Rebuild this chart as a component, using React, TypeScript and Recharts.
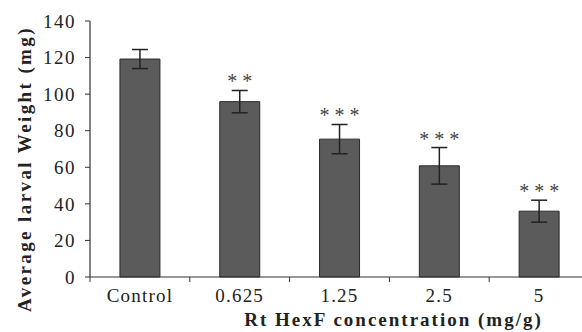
import React from 'react';
import { BarChart, Bar, XAxis, YAxis, ErrorBar, LabelList, Label } from 'recharts';

const categories = ['Control', '0.625', '1.25', '2.5', '5'];
const means = [119.2, 95.9, 75.4, 60.8, 36.0];
const errors = [5.2, 6.1, 8.0, 10.0, 6.0];
const significance = ['', '* *', '* * *', '* * *', '* * *'];
const yTicks = [0, 20, 40, 60, 80, 100, 120, 140];

const data = categories.map((name, i) => ({
  name,
  mean: means[i],
  err: errors[i],
  sig: significance[i],
}));

const FONT = '"Liberation Serif", "DejaVu Serif", serif';

const SigLabel = (props: any) => {
  const vb = props.viewBox || {};
  const x = props.x ?? vb.x;
  const y = props.y ?? vb.y;
  const width = props.width ?? vb.width;
  const height = props.height ?? vb.height;
  const index = props.index;
  const value = props.value ?? (index != null ? significance[index] : '');
  if (!value || index == null) return null;
  const pxPerUnit = height / means[index];
  const errTop = y - errors[index] * pxPerUnit;
  return (
    <text
      x={x + width / 2}
      y={errTop - 2}
      textAnchor="middle"
      fontFamily={FONT}
      fontSize={20}
      fill="#444"
    >
      {value}
    </text>
  );
};

const CatTick = (props: any) => {
  const { x, y, payload } = props;
  const half = payload.offset ?? 0;
  return (
    <g>
      <line x1={x - half} x2={x - half} y1={y} y2={y + 5} stroke="#333" strokeWidth={1} />
      <text
        x={x}
        y={y + 12}
        dy="0.71em"
        textAnchor="middle"
        fontFamily={FONT}
        fontSize={19}
        letterSpacing={1.2}
        fill="#222"
      >
        {payload.value}
      </text>
    </g>
  );
};

const XLabel = (props: any) => {
  const vb = props.viewBox || {};
  return (
    <text
      x={vb.x + vb.width / 2 + 54}
      y={326}
      textAnchor="middle"
      fontFamily={FONT}
      fontSize={19}
      fontWeight="bold"
      letterSpacing={2}
      fill="#222"
    >
      Rt HexF concentration (mg/g)
    </text>
  );
};

const YLabel = () => (
  <text
    x={31}
    y={169}
    transform="rotate(-90, 31, 169)"
    textAnchor="middle"
    fontFamily={FONT}
    fontSize={19}
    fontWeight="bold"
    letterSpacing={2.4}
    fill="#222"
  >
    Average larval Weight (mg)
  </text>
);

export default function App() {
  return (
    <div style={{ position: 'fixed', left: 0, top: 0, width: 582, height: 332, overflow: 'hidden', background: '#fff' }}>
      <BarChart
        width={600}
        height={332}
        data={data}
        margin={{ top: 21, right: 11, left: 0, bottom: 0 }}
        barCategoryGap="30%"
      >
        <XAxis
          dataKey="name"
          height={55}
          tickLine={false}
          tickSize={0}
          tickMargin={0}
          axisLine={{ stroke: '#333', strokeWidth: 1.2 }}
          tick={<CatTick />}
          interval={0}
        >
          <Label content={<XLabel />} />
        </XAxis>
        <YAxis
          width={90}
          domain={[0, 140]}
          ticks={yTicks}
          tickSize={5}
          tickMargin={9}
          axisLine={{ stroke: '#333', strokeWidth: 1.2 }}
          tickLine={{ stroke: '#333', strokeWidth: 1 }}
          tick={{ fontFamily: FONT, fontSize: 19, fill: '#222', letterSpacing: 1.5 }}
          interval={0}
        >
          <Label content={<YLabel />} />
        </YAxis>
        <Bar
          dataKey="mean"
          fill="#5b5b5b"
          stroke="#2a2a2a"
          strokeWidth={1}
          isAnimationActive={false}
        >
          <ErrorBar dataKey="err" width={8} stroke="#222" strokeWidth={1.5} direction="y" />
          <LabelList dataKey="sig" content={<SigLabel />} />
        </Bar>
      </BarChart>
    </div>
  );
}
